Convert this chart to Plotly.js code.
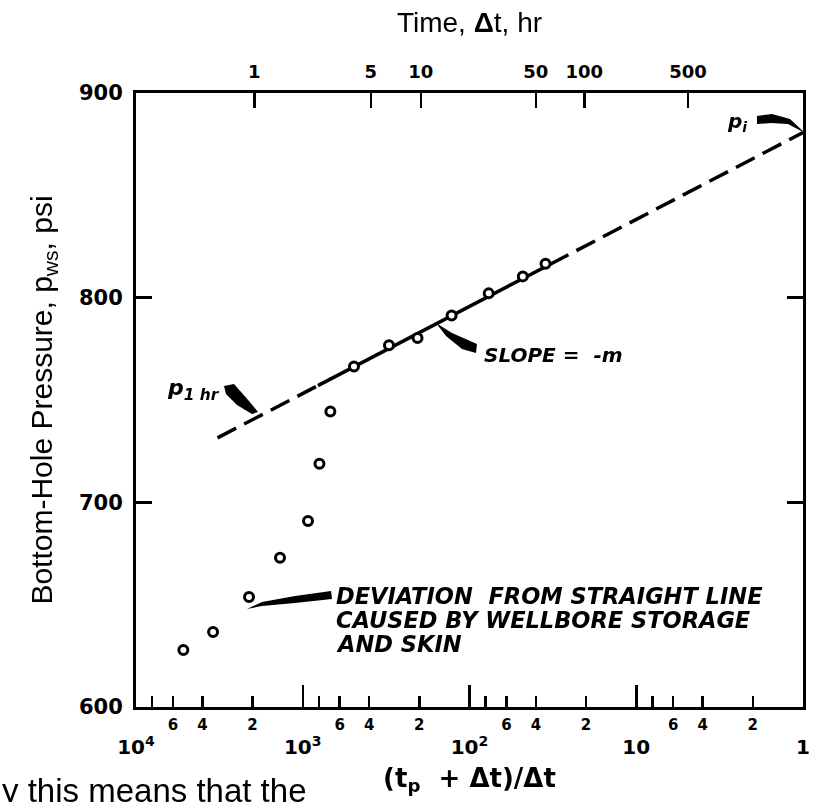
<!DOCTYPE html>
<html><head><meta charset="utf-8">
<script src="https://cdn.plot.ly/plotly-3.0.1.min.js"></script>
<style>html,body{margin:0;padding:0;background:#fff}#chart{width:815px;height:802px}</style>
</head><body><div id="chart"></div>
<script>
// ---- data ----
const hornerRatio = [35.0, 47.9, 76.7, 128, 205, 304, 493, 683, 794, 930, 1369, 2100, 3450, 5200];
const pws = [816.6, 810.4, 802.1, 791.3, 780.3, 776.7, 766.4, 744.4, 718.8, 690.9, 672.9, 653.8, 636.7, 627.9];

const earlyDashX = [3245, 811];
const earlyDashY = [731.5, 757.0];
const straightX = [811, 33];
const straightY = [757.0, 816.2];
const extrapX = [33, 1];
const extrapY = [816.2, 880.7];

const pressureTicks = [600, 700, 800, 900];
const ratioMinorTicks = [8000, 6000, 4000, 2000, 800, 600, 400, 200, 80, 60, 40, 20, 8, 6, 4, 2];
const ratioMinorLabels = ['', '6', '4', '2', '', '6', '4', '2', '', '6', '4', '2', '', '6', '4', '2'];
const ratioMajorTicks = [10000, 1000, 100, 10, 1];
const ratioMajorLabels = ['10<sup>4</sup>', '10<sup>3</sup>', '10<sup>2</sup>', '10', '1'];
const timeTickHours = [1, 5, 10, 50, 100, 500];
const producingTimeHr = 1950;

// ---- helpers ----
const timeTickRatios = timeTickHours.map(h => (producingTimeHr + h) / h);
const L = 136, R = 803, T = 93, B = 707;
const px = x => (x - L) / (R - L);
const py = y => (B - y) / (B - T);
const wedge = pts => 'M ' + pts.map(p => px(p[0]).toFixed(4) + ',' + py(p[1]).toFixed(4)).join(' L ') + ' Z';
const NB = '\u00a0';

const noteFont = {family: 'DejaVu Sans', size: 20, color: '#000', weight: 'bold', style: 'italic'};
const devFont = {family: 'DejaVu Sans', size: 22.5, color: '#000', weight: 'bold', style: 'italic'};
const dashPat = '21px,9px';

const traces = [
  {x: earlyDashX, y: earlyDashY, mode: 'lines', line: {color: '#000', width: 3.5, dash: dashPat}, hoverinfo: 'skip'},
  {x: straightX, y: straightY, mode: 'lines', line: {color: '#000', width: 3.5}, hoverinfo: 'skip'},
  {x: extrapX, y: extrapY, mode: 'lines', line: {color: '#000', width: 3.5, dash: dashPat}, hoverinfo: 'skip'},
  {x: hornerRatio, y: pws, mode: 'markers',
   marker: {symbol: 'circle', size: 9, color: '#fff', line: {color: '#000', width: 3}}, hoverinfo: 'skip'},
  {x: hornerRatio, y: pws, xaxis: 'x2', mode: 'markers', opacity: 0, hoverinfo: 'skip'},
  {x: hornerRatio, y: pws, xaxis: 'x3', mode: 'markers', opacity: 0, hoverinfo: 'skip'}
];

const devLines = ['DEVIATION' + NB + NB + 'FROM STRAIGHT LINE', 'CAUSED BY WELLBORE STORAGE', 'AND SKIN'];

const layout = {
  width: 815, height: 802,
  margin: {l: L, r: 815 - R, t: T, b: 802 - B},
  paper_bgcolor: '#fff', plot_bgcolor: '#fff',
  showlegend: false, hovermode: false,
  xaxis: {
    type: 'log', range: [4, 0], tickmode: 'array',
    tickvals: ratioMinorTicks, ticktext: ratioMinorLabels,
    ticks: 'inside', ticklen: 11, tickwidth: 2.5, tickcolor: '#000',
    showline: true, linewidth: 3, linecolor: '#000', mirror: false,
    showgrid: false, zeroline: false,
    tickfont: {family: 'DejaVu Sans', size: 15, color: '#000', weight: 'bold'},
    ticklabelstandoff: 2
  },
  xaxis3: {
    type: 'log', range: [4, 0], overlaying: 'x', anchor: 'y', side: 'bottom',
    tickmode: 'array', tickvals: ratioMajorTicks, ticktext: ratioMajorLabels,
    ticks: 'inside', ticklen: 22, tickwidth: 2.5, tickcolor: '#000',
    showline: false, showgrid: false, zeroline: false,
    tickfont: {family: 'DejaVu Sans', size: 20, color: '#000', weight: 'bold'},
    ticklabelstandoff: 26,
    title: {text: '(t<sub>p</sub>' + NB + ' + Δt)/Δt', font: {family: 'DejaVu Sans', size: 26, color: '#000', weight: 'bold'}, standoff: 10}
  },
  xaxis2: {
    type: 'log', range: [4, 0], overlaying: 'x', anchor: 'y', side: 'top',
    tickmode: 'array', tickvals: timeTickRatios, ticktext: timeTickHours.map(String),
    ticks: 'inside', ticklen: 15, tickwidth: 2.5, tickcolor: '#000',
    showline: true, linewidth: 3, linecolor: '#000',
    showgrid: false, zeroline: false,
    tickfont: {family: 'DejaVu Sans', size: 18, color: '#000', weight: 'bold'},
    ticklabelstandoff: 5,
    title: {text: 'Time, <b>Δ</b>t, hr', font: {family: 'Liberation Sans', size: 28, color: '#000'}, standoff: 20}
  },
  yaxis: {
    range: [600, 900], tickmode: 'array', tickvals: pressureTicks,
    ticks: 'inside', ticklen: 16, tickwidth: 2.5, tickcolor: '#000',
    showline: true, linewidth: 3, linecolor: '#000', mirror: 'ticks',
    showgrid: false, zeroline: false,
    tickfont: {family: 'DejaVu Sans', size: 21, color: '#000', weight: 'bold'},
    ticklabelstandoff: 6,
    title: {text: 'Bottom-Hole Pressure, p<sub>ws</sub>, psi', font: {family: 'Liberation Sans', size: 30, color: '#000'}, standoff: 18}
  },
  annotations: [
    {xref: 'paper', yref: 'paper', x: px(737), y: py(122), xanchor: 'center', yanchor: 'middle',
     text: 'p<sub>i</sub>', showarrow: false, font: noteFont},
    {xref: 'paper', yref: 'paper', x: px(193), y: py(389), xanchor: 'center', yanchor: 'middle',
     text: 'p<sub>1' + NB + 'hr</sub>', showarrow: false, font: {family: 'DejaVu Sans', size: 22, color: '#000', weight: 'bold', style: 'italic'}},
    {xref: 'paper', yref: 'paper', x: px(482), y: py(355), xanchor: 'left', yanchor: 'middle',
     text: 'SLOPE' + NB + '=' + NB + NB + '-m', showarrow: false, font: noteFont},
    {xref: 'paper', yref: 'paper', x: px(334), y: py(596), xanchor: 'left', yanchor: 'middle', align: 'left',
     text: devLines[0], showarrow: false, font: devFont},
    {xref: 'paper', yref: 'paper', x: px(334), y: py(620), xanchor: 'left', yanchor: 'middle', align: 'left',
     text: devLines[1], showarrow: false, font: devFont},
    {xref: 'paper', yref: 'paper', x: px(334), y: py(644), xanchor: 'left', yanchor: 'middle', align: 'left',
     text: devLines[2], showarrow: false, font: devFont},
    {xref: 'paper', yref: 'paper', x: px(0), y: py(770), xanchor: 'left', yanchor: 'top', align: 'left',
     text: 'y this means that the', showarrow: false,
     font: {family: 'Liberation Sans', size: 33, color: '#000'}}
  ],
  shapes: [
    {type: 'path', xref: 'paper', yref: 'paper', fillcolor: '#000', line: {width: 0},
     path: wedge([[757,116],[772,114],[790,119],[805,133],[788,124],[771,123],[757,124]])},
    {type: 'path', xref: 'paper', yref: 'paper', fillcolor: '#000', line: {width: 0},
     path: wedge([[224,386],[234,384],[249,401],[258,412],[252,414],[237,405],[226,394]])},
    {type: 'path', xref: 'paper', yref: 'paper', fillcolor: '#000', line: {width: 0},
     path: wedge([[436,323],[452,333],[477,344],[476,353],[462,349],[446,336]])},
    {type: 'path', xref: 'paper', yref: 'paper', fillcolor: '#000', line: {width: 0},
     path: wedge([[247,609],[262,602],[295,596],[331,591],[332,599],[295,603],[262,606]])}
  ]
};

Plotly.newPlot('chart', traces, layout, {staticPlot: true, displayModeBar: false});
</script>
</body></html>
